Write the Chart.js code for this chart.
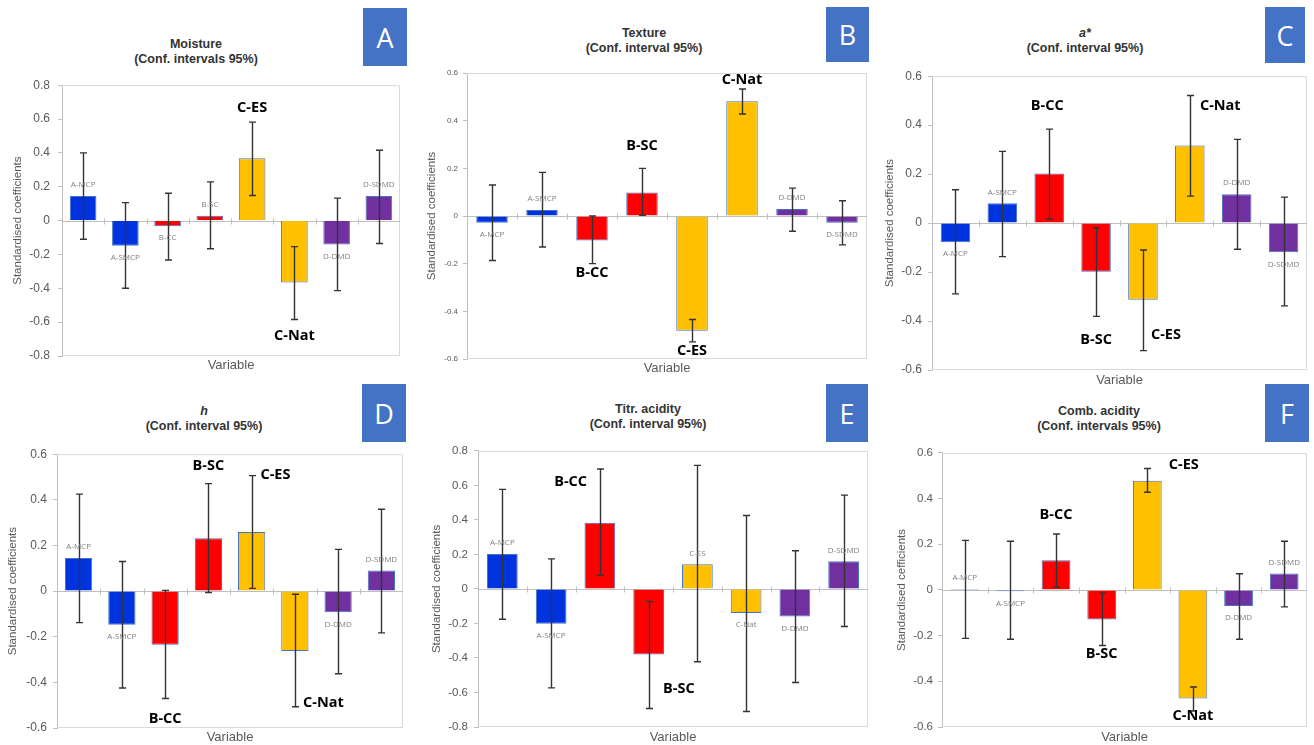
<!DOCTYPE html>
<html lang="en">
<head>
    <meta charset="UTF-8">
    <title>Standardised coefficients (Conf. interval 95%)</title>
    <script src="https://cdn.jsdelivr.net/npm/chart.js"></script>
    <style>
        body {
            margin: 0;
            width: 1314px;
            height: 745px;
            overflow: hidden;
            position: relative;
            background: #fff;
            font-family: 'Liberation Sans', Arial, sans-serif;
        }
        canvas {
            position: absolute;
        }
        .title {
            position: absolute;
            width: 300px;
            text-align: center;
            font-weight: bold;
            font-size: 12.5px;
            line-height: 15px;
            color: #333;
        }
        .tag {
            position: absolute;
            background: #4472C4;
            color: #fff;
            font-family: 'Open Sans', sans-serif;
            font-size: 27px;
            display: flex;
            align-items: center;
            justify-content: center;
        }
    </style>
</head>
<body>
    <script>
        const categories = ['A-MCP', 'A-SMCP', 'B-CC', 'B-SC', 'C-ES', 'C-Nat', 'D-DMD', 'D-SDMD'];

        // A - Moisture
        const moistureCoef = [0.145, -0.148, -0.033, 0.029, 0.368, -0.366, -0.141, 0.145];
        const moistureLow  = [-0.110, -0.400, -0.233, -0.166, 0.148, -0.584, -0.414, -0.135];
        const moistureHigh = [0.400, 0.106, 0.162, 0.229, 0.582, -0.154, 0.133, 0.416];

        // B - Texture
        const textureCoef = [-0.028, 0.025, -0.103, 0.099, -0.481, 0.481, 0.029, -0.028];
        const textureLow  = [-0.187, -0.130, -0.200, 0.003, -0.528, 0.428, -0.064, -0.121];
        const textureHigh = [0.130, 0.183, 0.000, 0.200, -0.434, 0.533, 0.117, 0.064];

        // C - a*
        const aStarCoef = [-0.078, 0.081, 0.203, -0.199, -0.313, 0.317, 0.118, -0.119];
        const aStarLow  = [-0.289, -0.137, 0.016, -0.381, -0.521, 0.110, -0.107, -0.338];
        const aStarHigh = [0.136, 0.293, 0.384, -0.019, -0.110, 0.521, 0.342, 0.106];

        // D - h
        const hueCoef = [0.145, -0.148, -0.235, 0.232, 0.259, -0.262, -0.093, 0.090];
        const hueLow  = [-0.138, -0.425, -0.471, -0.006, 0.012, -0.507, -0.362, -0.183];
        const hueHigh = [0.425, 0.130, 0.003, 0.471, 0.506, -0.014, 0.183, 0.359];

        // E - Titr. acidity
        const titrCoef = [0.202, -0.202, 0.384, -0.380, 0.143, -0.139, -0.160, 0.160];
        const titrLow  = [-0.176, -0.573, 0.078, -0.693, -0.422, -0.710, -0.542, -0.218];
        const titrHigh = [0.577, 0.174, 0.695, -0.073, 0.716, 0.426, 0.221, 0.544];

        // F - Comb. acidity
        const combCoef = [0.004, -0.006, 0.130, -0.129, 0.478, -0.475, -0.070, 0.072];
        const combLow  = [-0.212, -0.216, 0.012, -0.243, 0.428, -0.530, -0.216, -0.074];
        const combHigh = [0.217, 0.213, 0.245, -0.014, 0.532, -0.425, 0.071, 0.213];

        // highlighted (bold) labels: [category index, shift in categories, value]
        const moistureBold = [[4, 0, 0.665], [5, 0, -0.684]];
        const textureBold = [[2, 0, -0.240], [3, 0, 0.293], [4, 0, -0.564], [5, 0, 0.572]];
        const aStarBold = [[2, -0.04, 0.477], [3, 0, -0.477], [4, 0.49, -0.456], [5, 0.65, 0.477]];
        const hueBold = [[2, 0, -0.558], [3, 0, 0.551], [4, 0.55, 0.510], [5, 0.66, -0.490]];
        const titrBold = [[2, -0.60, 0.619], [3, 0.62, -0.579]];
        const combBold = [[2, 0, 0.329], [3, 0, -0.280], [4, 0.80, 0.549], [5, 0, -0.552]];

        const barColours = ['#0033E0', '#0033E0', '#FF0000', '#FF0000', '#FFC000', '#FFC000', '#7030A0', '#7030A0'];

        const panels = [
            { tag: 'A', title: ['Moisture', '(Conf. intervals 95%)'], coef: moistureCoef, low: moistureLow, high: moistureHigh, bold: moistureBold,
              min: -0.8, max: 0.8, area: [62, 80, 400, 356], yTitleX: 18, varY: 365, tickFont: 12, tickGap: 12,
              yLabel: 'Standardised coefficients', titlePos: [196, 37], tagBox: [363, 8, 44, 58] },
            { tag: 'B', title: ['Texture', '(Conf. interval 95%)'], coef: textureCoef, low: textureLow, high: textureHigh, bold: textureBold,
              min: -0.6, max: 0.6, area: [467, 73, 867, 359], yTitleX: 432, varY: 368, tickFont: 8, tickGap: 9,
              yLabel: 'Standardised coefficients', titlePos: [644, 26], tagBox: [826, 7, 43, 55] },
            { tag: 'C', title: ['<i>a*</i>', '(Conf. interval 95%)'], coef: aStarCoef, low: aStarLow, high: aStarHigh, bold: aStarBold,
              min: -0.6, max: 0.6, area: [932, 73, 1307, 370], yTitleX: 890, varY: 380, tickFont: 12, tickGap: 10,
              yLabel: 'Standardised coefficients', titlePos: [1085, 26], tagBox: [1265, 7, 40, 56] },
            { tag: 'D', title: ['<i>h</i>', '(Conf. interval 95%)'], coef: hueCoef, low: hueLow, high: hueHigh, bold: hueBold,
              min: -0.6, max: 0.6, area: [57, 451, 403, 728], yTitleX: 13, varY: 737, tickFont: 12, tickGap: 10,
              yLabel: 'Standardised coefficients', titlePos: [204, 404], tagBox: [362, 384, 44, 58] },
            { tag: 'E', title: ['Titr. acidity', '(Conf. interval 95%)'], coef: titrCoef, low: titrLow, high: titrHigh, bold: titrBold,
              min: -0.8, max: 0.8, area: [478, 448, 868, 727], yTitleX: 437, varY: 737, tickFont: 11.5, tickGap: 10,
              yLabel: 'Standardised coefficients', titlePos: [648, 402], tagBox: [826, 384, 42, 58] },
            { tag: 'F', title: ['Comb. acidity', '(Conf. intervals 95%)'], coef: combCoef, low: combLow, high: combHigh, bold: combBold,
              min: -0.6, max: 0.6, area: [942, 451, 1307, 727], yTitleX: 902, varY: 737, tickFont: 11.5, tickGap: 9,
              yLabel: 'Standardised cefficients', titlePos: [1099, 404], tagBox: [1265, 384, 44, 58] }
        ];

        // plot border, zero line, error bars and bar labels
        const decorPlugin = {
            id: 'decor',
            beforeDatasetsDraw(chart) {
                const { ctx, chartArea: a, scales: { x, y } } = chart;
                ctx.save();
                ctx.strokeStyle = '#d9d9d9';
                ctx.lineWidth = 1;
                ctx.beginPath();
                ctx.moveTo(a.left, a.top + 0.5);
                ctx.lineTo(a.right - 0.5, a.top + 0.5);
                ctx.lineTo(a.right - 0.5, a.bottom - 0.5);
                ctx.lineTo(a.left, a.bottom - 0.5);
                ctx.stroke();
                const y0 = Math.round(y.getPixelForValue(0)) + 0.5;
                ctx.strokeStyle = '#bfbfbf';
                ctx.beginPath();
                ctx.moveTo(a.left, y0);
                ctx.lineTo(a.right, y0);
                for (let k = 1; k < categories.length; k++) {
                    const tx = Math.round(x.getPixelForValue(k - 0.5)) + 0.5;
                    ctx.moveTo(tx, y0 - 3);
                    ctx.lineTo(tx, y0 + 3);
                }
                ctx.stroke();
                ctx.restore();
            },
            afterDatasetsDraw(chart) {
                const p = chart.options.plugins.decor;
                const { ctx, scales: { x, y } } = chart;
                const bars = chart.getDatasetMeta(0).data;
                ctx.save();
                // error bars
                ctx.strokeStyle = '#333';
                ctx.lineWidth = 1.4;
                bars.forEach((bar, i) => {
                    const bx = Math.round(bar.x) + 0.5;
                    const yHi = y.getPixelForValue(p.high[i]);
                    const yLo = y.getPixelForValue(p.low[i]);
                    ctx.beginPath();
                    ctx.moveTo(bx, yHi);
                    ctx.lineTo(bx, yLo);
                    ctx.moveTo(bx - 3.5, yHi);
                    ctx.lineTo(bx + 3.5, yHi);
                    ctx.moveTo(bx - 3.5, yLo);
                    ctx.lineTo(bx + 3.5, yLo);
                    ctx.stroke();
                });
                // labels
                ctx.textAlign = 'center';
                ctx.textBaseline = 'middle';
                const boldIdx = p.bold.map(b => b[0]);
                ctx.fillStyle = '#808080';
                ctx.font = '8px "Open Sans"';
                categories.forEach((c, i) => {
                    if (boldIdx.includes(i)) return;
                    const v = p.coef[i];
                    const by = y.getPixelForValue(v);
                    ctx.fillText(c, bars[i].x, v >= 0 ? by - 11 : by + 12);
                });
                ctx.fillStyle = '#000';
                ctx.font = 'bold 14.5px "Open Sans"';
                p.bold.forEach(([i, dx, v]) => {
                    ctx.fillText(categories[i], x.getPixelForValue(i + dx), y.getPixelForValue(v));
                });
                ctx.restore();
            }
        };

        function makePanel(cfg) {
            const [L, T, R, B] = cfg.area;
            const titleLh = 13.8;
            const canvasLeft = Math.round(cfg.yTitleX - titleLh / 2);
            const padTop = 10;
            const padRight = 6;
            const axisW = L - canvasLeft;
            const axisH = Math.round(cfg.varY - B + 7.8);
            const w = R + padRight - canvasLeft;
            const h = B + axisH - (T - padTop);

            const canvas = document.createElement('canvas');
            canvas.width = w;
            canvas.height = h;
            canvas.style.left = canvasLeft + 'px';
            canvas.style.top = (T - padTop) + 'px';
            document.body.appendChild(canvas);

            const title = document.createElement('div');
            title.className = 'title';
            title.style.left = (cfg.titlePos[0] - 150) + 'px';
            title.style.top = cfg.titlePos[1] + 'px';
            title.innerHTML = cfg.title.join('<br>');
            document.body.appendChild(title);

            const tag = document.createElement('div');
            tag.className = 'tag';
            const [tx, ty, tw, th] = cfg.tagBox;
            tag.style.left = tx + 'px';
            tag.style.top = ty + 'px';
            tag.style.width = tw + 'px';
            tag.style.height = th + 'px';
            tag.textContent = cfg.tag;
            document.body.appendChild(tag);

            new Chart(canvas, {
                type: 'bar',
                data: {
                    labels: categories,
                    datasets: [{
                        data: cfg.coef,
                        backgroundColor: barColours,
                        borderColor: '#4472C4',
                        borderWidth: 1,
                        categoryPercentage: 1,
                        barPercentage: 0.63
                    }]
                },
                options: {
                    responsive: false,
                    animation: false,
                    devicePixelRatio: 1,
                    layout: { padding: { top: padTop, right: padRight, left: 0, bottom: 0 } },
                    plugins: {
                        legend: { display: false },
                        tooltip: { enabled: false },
                        decor: { coef: cfg.coef, low: cfg.low, high: cfg.high, bold: cfg.bold }
                    },
                    scales: {
                        x: {
                            offset: true,
                            grid: { display: false },
                            border: { display: false },
                            ticks: { display: false },
                            title: {
                                display: true,
                                text: 'Variable',
                                color: '#595959',
                                padding: 0,
                                font: { family: 'Liberation Sans', size: 13 }
                            },
                            afterFit: s => { s.height = axisH; }
                        },
                        y: {
                            min: cfg.min,
                            max: cfg.max,
                            ticks: {
                                stepSize: 0.2,
                                padding: cfg.tickGap - 4,
                                color: '#595959',
                                font: { family: 'Liberation Sans', size: cfg.tickFont },
                                callback: v => String(+v.toFixed(1))
                            },
                            grid: { drawOnChartArea: false, drawTicks: true, tickLength: 4, color: '#bfbfbf' },
                            border: { color: '#bfbfbf' },
                            title: {
                                display: true,
                                text: cfg.yLabel,
                                color: '#595959',
                                padding: 0,
                                font: { family: 'Liberation Sans', size: 11.5 }
                            },
                            afterFit: s => { s.width = axisW; }
                        }
                    }
                },
                plugins: [decorPlugin]
            });
        }

        panels.forEach(makePanel);
    </script>
</body>
</html>
